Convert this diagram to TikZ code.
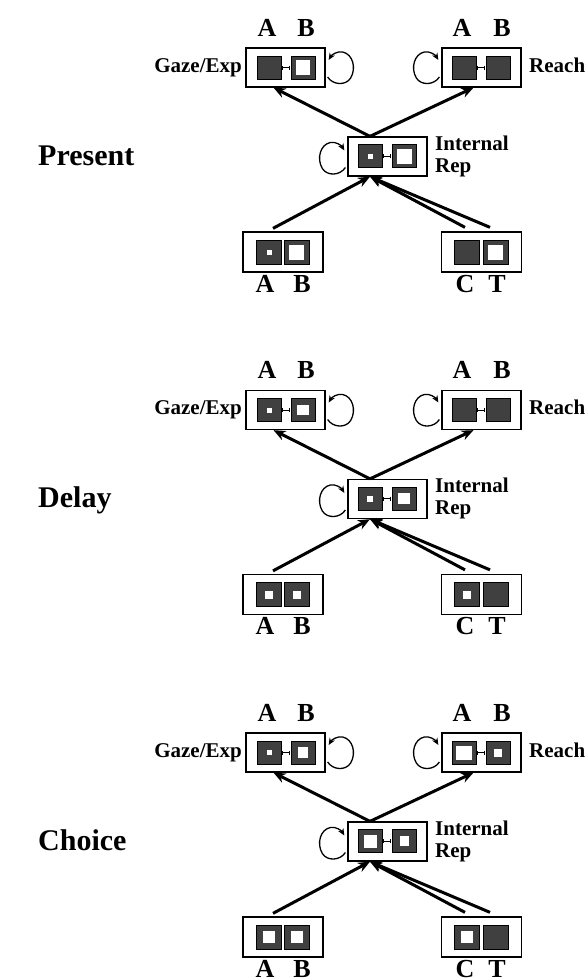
\documentclass[tikz,border=0pt]{standalone}
\usepackage{fontspec}
\setmainfont{Liberation Serif}
\usetikzlibrary{arrows.meta,calc}
\definecolor{sqdark}{HTML}{404040}
\tikzset{
 frame/.style={draw=black, fill=white, line width=1.3pt, minimum width=79pt, minimum height=39pt, inner sep=0pt},
 frameb/.style={frame, minimum width=80pt, minimum height=40pt},
 cell/.style={draw=black, fill=sqdark, line width=0.8pt, minimum width=24pt, minimum height=23pt, inner sep=0pt},
 cellb/.style={cell, minimum width=25pt, minimum height=24pt},
 hole/.style={fill=white, inner sep=0pt, draw=none},
 lbl/.style={font=\bfseries\fontsize{21}{22}\selectfont, inner sep=0pt},
 ablbl/.style={font=\bfseries\fontsize{26}{28}\selectfont, inner sep=0pt, anchor=base},
 plbl/.style={font=\bfseries\fontsize{30}{32}\selectfont, inner sep=0pt, anchor=base west},
 arr/.style={line width=3pt, -{Stealth[length=12pt,width=10pt]}},
 lnk/.style={line width=0.8pt, {Bar[width=4pt]}-{Bar[width=4pt]}, shorten <=0.5pt, shorten >=0.5pt},
 loopline/.style={line width=1.3pt, -{Stealth[length=7pt,width=6pt]}},
}
\newcommand\selfloop[3]{%
 \draw[loopline] ($(#1)+({#2*2},{#3+9.5})$) .. controls ($(#1)+({#2*7},{#3+17.5})$) and ($(#1)+({#2*20},{#3+18.5})$) .. ($(#1)+({#2*25},{#3+10.5})$) .. controls ($(#1)+({#2*31},{#3+0.5})$) and ($(#1)+({#2*27},{#3-13.5})$) .. ($(#1)+({#2*17},{#3-15.5})$) .. controls ($(#1)+({#2*11},{#3-16.5})$) and ($(#1)+({#2*6},{#3-12.5})$) .. ($(#1)+({#2*3},{#3-7.5})$);}
\newcommand\hole[3]{\node[hole, minimum width=#2pt, minimum height=#3pt] (#1h) at (#1) {};}
\newcommand\panel[3]{%
\begin{scope}[shift={(0,#2)}]
 \node[frame] (gz#1) at (285.5,67.5) {};
 \node[frame] (rc#1) at (481.5,67.5) {};
 \node[frame] (ir#1) at (387.5,156.5) {};
 \node[frameb] (bl#1) at (283,252) {};
 \node[frameb] (br#1) at (481.5,252) {};
 \node[cell] (gzA#1) at (269,67.5) {};
 \node[cell] (gzB#1) at (303,67.5) {};
 \node[cell] (rcA#1) at (464,67.5) {};
 \node[cell] (rcB#1) at (498,67.5) {};
 \node[cell] (irA#1) at (370,156) {};
 \node[cell] (irB#1) at (404,156) {};
 \node[cellb] (blA#1) at (269,252) {};
 \node[cellb] (blB#1) at (296.5,252) {};
 \node[cellb] (brC#1) at (466.5,252) {};
 \node[cellb] (brT#1) at (495.5,252) {};
 \draw[lnk] (gzA#1.east) -- (gzB#1.west);
 \draw[lnk] (rcA#1.east) -- (rcB#1.west);
 \draw[lnk] (irA#1.east) -- (irB#1.west);
 \draw[arr] (irA#1 |- ir#1.north) -- ($(gz#1.south)+(-12,0)$);
 \draw[arr] (irA#1 |- ir#1.north) -- ($(rc#1.south)+(-8,0)$);
 \draw[arr] ($(bl#1.north)+(-10,-3)$) -- (irA#1 |- ir#1.south);
 \draw[arr] ($(br#1.north)+(-16.5,-4)$) -- (irA#1 |- ir#1.south);
 \draw[arr] ($(br#1.north)+(8.5,-4)$) -- (irA#1 |- ir#1.south);
 \selfloop{gz#1.east}{1}{0}
 \selfloop{rc#1.west}{-1}{0}
 \selfloop{ir#1.west}{-1}{1.5}
 \node[ablbl] (tA1#1) at (267,36) {A};
 \node[ablbl] (tB1#1) at (306,36) {B};
 \node[ablbl] (tA2#1) at (462,36) {A};
 \node[ablbl] (tB2#1) at (502,36) {B};
 \node[ablbl] (bA#1) at (265,292) {A};
 \node[ablbl] (bB#1) at (302,292) {B};
 \node[ablbl] (bC#1) at (465,292) {C};
 \node[ablbl] (bT#1) at (497,292) {T};
 \node[lbl, anchor=base east] (lgz#1) at (242,72) {Gaze/Exp};
 \node[lbl, anchor=base west] (lrc#1) at (529,72) {Reach};
 \node[lbl, anchor=base west] (lir#1) at (435,150) {Internal};
 \node[lbl, anchor=base west] (lrp#1) at (435,172) {Rep};
 \node[plbl] (pl#1) at (38,165) {#3};
\end{scope}}
\begin{document}
\begin{tikzpicture}[x=1pt,y=-1pt]
\useasboundingbox (0,0) rectangle (587,978);
\panel{1}{0}{Present}
\panel{2}{342.5}{Delay}
\panel{3}{685}{Choice}
\hole{irA1}{5}{5}
\hole{irB1}{15}{15}
\hole{gzB1}{14}{15}
\hole{blA1}{5}{5}
\hole{blB1}{15}{15}
\hole{brT1}{15}{15}
\hole{gzA2}{5}{5}
\hole{gzB2}{12}{10}
\hole{irA2}{6}{6}
\hole{irB2}{12}{11}
\hole{blA2}{8}{8}
\hole{blB2}{8}{8}
\hole{brC2}{8}{8}
\hole{gzA3}{5}{5}
\hole{gzB3}{10}{11}
\hole{rcA3}{16}{14}
\hole{rcB3}{8}{8}
\hole{irA3}{13}{13}
\hole{irB3}{9}{10}
\hole{blA3}{12}{12}
\hole{blB3}{12}{12}
\hole{brC3}{12}{12}
\end{tikzpicture}
\end{document}
